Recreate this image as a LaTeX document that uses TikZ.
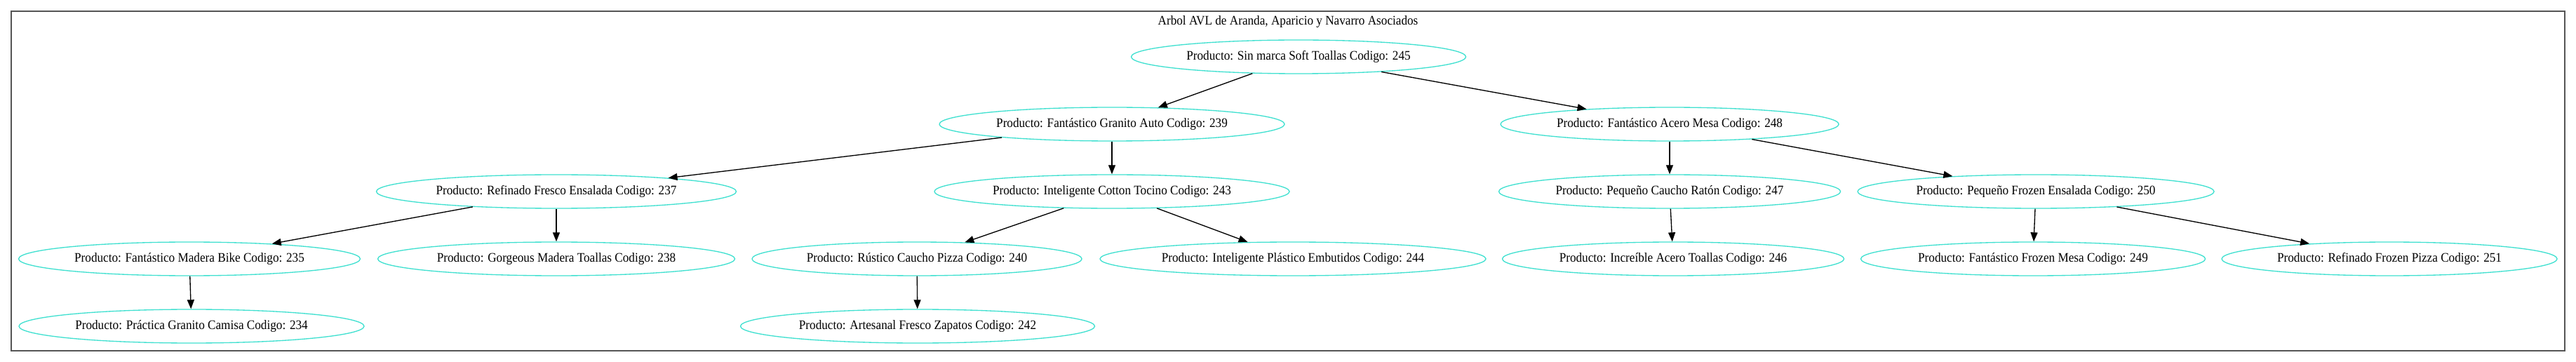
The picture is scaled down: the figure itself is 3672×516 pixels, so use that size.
\documentclass[tikz,border=0pt]{standalone}
\usepackage{fontspec}
\setmainfont{Liberation Serif}
\usetikzlibrary{shapes.geometric,arrows.meta}
\definecolor{turq}{HTML}{40E0D0}
\definecolor{framegray}{HTML}{555555}
\tikzset{
  prod/.style={ellipse, draw=turq, line width=1pt, inner sep=0pt, minimum height=36pt, font=\fontsize{14pt}{16pt}\selectfont},
  edge/.style={draw=black, line width=1pt, -{Triangle[length=9.75pt,width=7.5pt]}},
}
\newcommand{\nd}[4]{\node[prod, minimum width=#3*0.75pt] (#1) at (#2) {\makebox[0pt]{\scalebox{0.92}[1]{#4}}};}
\begin{document}
\begin{tikzpicture}[x=0.75pt,y=-0.75pt]
\useasboundingbox (0,0) rectangle (3672,516);
\draw[framegray, line width=1.5pt] (16,16) rectangle (3656,500);
\node[font=\fontsize{14pt}{16pt}\selectfont] (title) at (1836,31) {\scalebox{0.92}[1]{Arbol AVL de Aranda, Aparicio y Navarro Asociados}};
\nd{n245}{1851,81}{477}{Producto: Sin marca Soft Toallas Codigo: 245}
\nd{n239}{1585,177}{492}{Producto: Fantástico Granito Auto Codigo: 239}
\nd{n248}{2380,177}{482}{Producto: Fantástico Acero Mesa Codigo: 248}
\nd{n237}{793,273}{513}{Producto: Refinado Fresco Ensalada Codigo: 237}
\nd{n243}{1585,273}{506}{Producto: Inteligente Cotton Tocino Codigo: 243}
\nd{n247}{2380,273}{487}{Producto: Pequeño Caucho Ratón Codigo: 247}
\nd{n250}{2902,273}{508}{Producto: Pequeño Frozen Ensalada Codigo: 250}
\nd{n235}{270,369}{487}{Producto: Fantástico Madera Bike Codigo: 235}
\nd{n238}{793,369}{509}{Producto: Gorgeous Madera Toallas Codigo: 238}
\nd{n240}{1307,369}{470}{Producto: Rústico Caucho Pizza Codigo: 240}
\nd{n244}{1843,369}{550}{Producto: Inteligente Plástico Embutidos Codigo: 244}
\nd{n246}{2385,369}{487}{Producto: Increíble Acero Toallas Codigo: 246}
\nd{n249}{2898,369}{491}{Producto: Fantástico Frozen Mesa Codigo: 249}
\nd{n251}{3406,369}{478}{Producto: Refinado Frozen Pizza Codigo: 251}
\nd{n234}{273,465}{492}{Producto: Práctica Granito Camisa Codigo: 234}
\nd{n242}{1308,465}{505}{Producto: Artesanal Fresco Zapatos Codigo: 242}
\draw[edge] (n245) -- (n239);
\draw[edge] (n245) -- (n248);
\draw[edge] (n239) -- (n237);
\draw[edge] (n239) -- (n243);
\draw[edge] (n248) -- (n247);
\draw[edge] (n248) -- (n250);
\draw[edge] (n237) -- (n235);
\draw[edge] (n237) -- (n238);
\draw[edge] (n243) -- (n240);
\draw[edge] (n243) -- (n244);
\draw[edge] (n247) -- (n246);
\draw[edge] (n250) -- (n249);
\draw[edge] (n250) -- (n251);
\draw[edge] (n235) -- (n234);
\draw[edge] (n240) -- (n242);
\end{tikzpicture}
\end{document}
